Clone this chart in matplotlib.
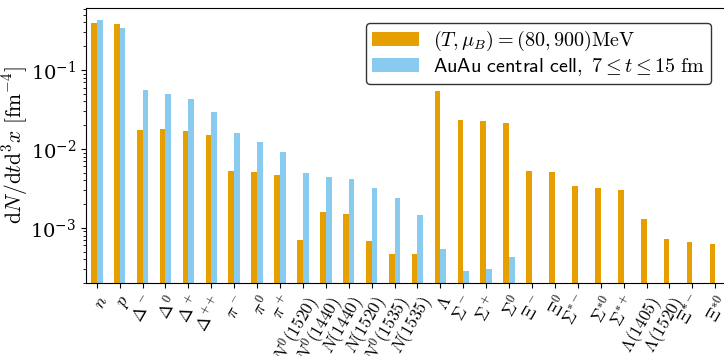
import numpy as np
import matplotlib
matplotlib.use("Agg")
import matplotlib.pyplot as plt

plt.rcParams["mathtext.fontset"] = "cm"
plt.rcParams["font.family"] = "serif"
plt.rcParams["font.serif"] = ["DejaVu Serif"]

species = [r"$n$", r"$p$", r"$\Delta^-$", r"$\Delta^0$", r"$\Delta^+$", r"$\Delta^{++}$",
           r"$\pi^-$", r"$\pi^0$", r"$\pi^+$",
           r"$N^0(1520)$", r"$N^0(1440)$", r"$N(1440)$", r"$N(1520)$",
           r"$N^0(1535)$", r"$N(1535)$",
           r"$\mathit{\Lambda}$", r"$\mathit{\Sigma}^-$", r"$\mathit{\Sigma}^+$", r"$\mathit{\Sigma}^0$",
           r"$\mathit{\Xi}^-$", r"$\mathit{\Xi}^0$",
           r"$\mathit{\Sigma}^{*-}$", r"$\mathit{\Sigma}^{*0}$", r"$\mathit{\Sigma}^{*+}$",
           r"$\mathit{\Lambda}(1405)$", r"$\mathit{\Lambda}(1520)$",
           r"$\mathit{\Xi}^{*-}$", r"$\mathit{\Xi}^{*0}$"]

thermal = [0.394, 0.382, 0.0174, 0.0179, 0.0169, 0.0150,
           0.00527, 0.00512, 0.00469,
           0.000705, 0.00160, 0.00150, 0.000684,
           0.000469, 0.000469,
           0.0542, 0.0233, 0.0226, 0.0213,
           0.00527, 0.00512,
           0.0034, 0.00321, 0.00303,
           0.0013, 0.000726,
           0.000665, 0.000627]

central_cell = [0.43, 0.34, 0.0558, 0.0497, 0.043, 0.0294,
                0.0160, 0.0123, 0.00916,
                0.00497, 0.00442, 0.00417, 0.00321,
                0.00240, 0.00146,
                0.000542, 0.000286, 0.000303, 0.000430]

label_thermal = r"$(T,\mu_B)=(80,900)\mathrm{MeV}$"
label_cell = r"$\mathsf{AuAu\ central\ cell,}\ 7\leq t\leq 15\ \mathrm{fm}$"

x = np.arange(len(species))
w = 0.25

fig = plt.figure(figsize=(7.24, 3.56), dpi=100)
ax = fig.add_axes([0.1188, 0.205, 0.8840, 0.7725])

ax.bar(x - w / 2, thermal, width=w, color="#E69F00", label=label_thermal)
ax.bar(x[:len(central_cell)] + w / 2, central_cell, width=w, color="#89CBEE", label=label_cell)

ax.set_yscale("log")
ax.set_ylim(2.0e-4, 0.61)
ax.set_xlim(-0.47, 27.47)

ax.set_xticks(x)
ax.set_xticklabels(species, rotation=60, ha="right", rotation_mode="anchor", fontsize=12.5)
ax.tick_params(axis="y", labelsize=14)
ax.set_ylabel(r"$\mathrm{d}N/\mathrm{d}t\mathrm{d}^3x\ [\mathrm{fm}^{-4}]$", fontsize=15.5, labelpad=0)

leg = ax.legend(loc="upper right", fontsize=14.5, fancybox=True, framealpha=1,
                edgecolor="#333333", handlelength=2.3, handleheight=0.65, handletextpad=0.7,
                labelspacing=0.15, borderpad=0.3, borderaxespad=0.75)
leg.get_frame().set_linewidth(1.0)

fig.savefig("out.png", dpi=100)
